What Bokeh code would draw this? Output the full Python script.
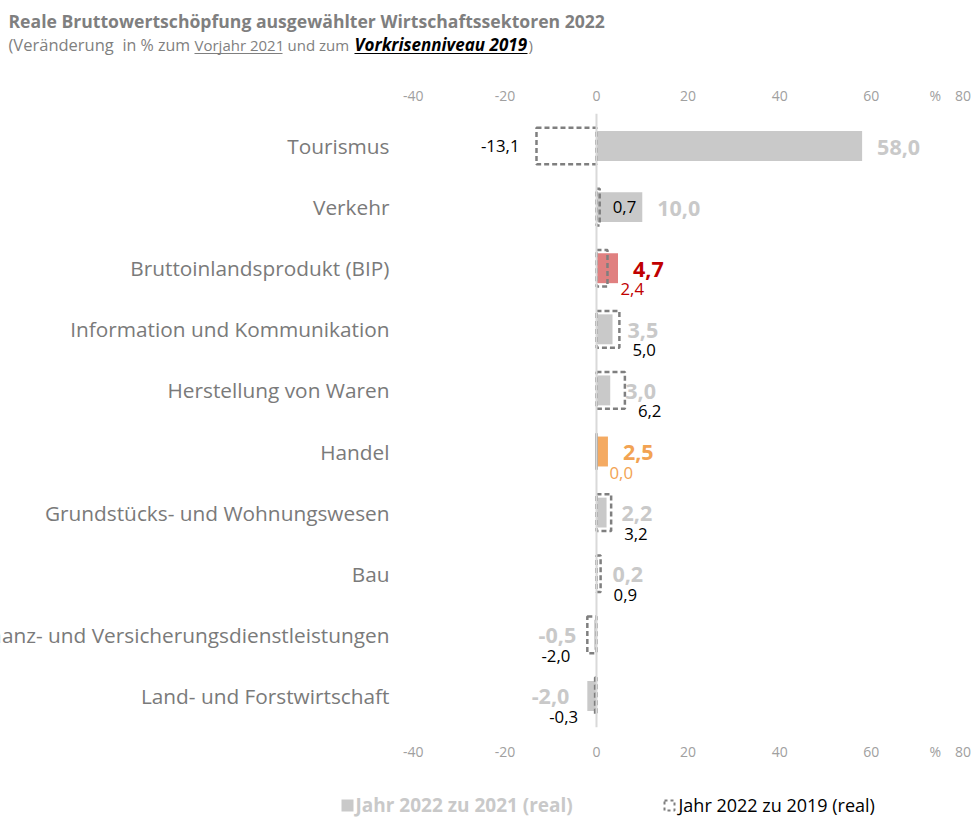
from bokeh.plotting import figure
from bokeh.layouts import column
from bokeh.models import Range1d, LinearAxis, FixedTicker, Span, ColumnDataSource
from bokeh.core.properties import value
from bokeh.embed import file_html
from bokeh.resources import INLINE

# ---------------- data ----------------
categories = ["Tourismus", "Verkehr", "Bruttoinlandsprodukt (BIP)",
              "Information und Kommunikation", "Herstellung von Waren", "Handel",
              "Grundstücks- und Wohnungswesen", "Bau",
              "Finanz- und Versicherungsdienstleistungen", "Land- und Forstwirtschaft"]
vs_2021 = [58.0, 10.0, 4.7, 3.5, 3.0, 2.5, 2.2, 0.2, -0.5, -2.0]
vs_2019 = [-13.1, 0.7, 2.4, 5.0, 6.2, 0.0, 3.2, 0.9, -2.0, -0.3]
tick_values = [-40, -20, 0, 20, 40, 60, 80]
unit_label = "%"

title_text = "Reale Bruttowertschöpfung ausgewählter Wirtschaftssektoren 2022"
legend_2021 = "Jahr 2022 zu 2021 (real)"
legend_2019 = "Jahr 2022 zu 2019 (real)"

# ---------------- style ----------------
FONT = value("Open Sans")
W = 972
GRAY_TXT = "#7a7a7a"
BAR_GRAY = "#c9c9c9"
special_bar = {"Bruttoinlandsprodukt (BIP)": "#e08080", "Handel": "#f4aa62"}
special_lbl = {"Bruttoinlandsprodukt (BIP)": "#c00000", "Handel": "#f2a353"}
special_dash_lbl = {"Bruttoinlandsprodukt (BIP)": "#c00000", "Handel": "#f2a353"}

def fmt(v):
    return f"{v:.1f}".replace(".", ",")

# ---------------- title figure ----------------
TH = 68
tf = figure(width=W, height=TH, x_range=Range1d(0, W), y_range=Range1d(TH, 0),
            output_backend="svg", toolbar_location=None, min_border=0)
tf.axis.visible = False
tf.grid.visible = False
tf.outline_line_color = None
tf.text(x=[8], y=[20], text=[title_text], text_font=FONT, text_font_size="17.6px",
        text_font_style="bold", text_color="#7f7f7f", text_baseline="middle")
parts = [("(Veränderung", 8, "normal", "#7f7f7f", None, "16.5px"),
         ("in % zum", 122, "normal", "#7f7f7f", None, "16px"),
         ("Vorjahr 2021", 194, "normal", "#7f7f7f", 282, "15px"),
         ("und zum", 287, "normal", "#7f7f7f", None, "15px"),
         ("Vorkrisenniveau 2019", 354, "bold italic", "#000000", 527, "17px"),
         (")", 528, "normal", "#7f7f7f", None, "15px")]
for txt, x0, style, col, x1, fs in parts:
    tf.text(x=[x0], y=[44], text=[txt], text_font=FONT, text_font_size=fs,
            text_font_style=style, text_color=col, text_baseline="middle")
    if x1 is not None:
        tf.segment(x0=[x0], y0=[53], x1=[x1], y1=[53], line_color=col, line_width=1.2)

# ---------------- main figure ----------------
x_lo, x_hi = -130.13, 82.10
scale = W / (x_hi - x_lo)
n = len(categories)
ys = list(range(n))

p = figure(width=W, height=707, x_range=Range1d(x_lo, x_hi), y_range=Range1d(9.517, -0.532),
           output_backend="svg", toolbar_location=None,
           x_axis_location=None, y_axis_location=None,
           min_border_left=0, min_border_right=0, min_border_top=45, min_border_bottom=48)
p.grid.visible = False
p.outline_line_color = None

ticks = tick_values + [74]
overrides = {t: str(t) for t in tick_values}
overrides[74] = unit_label
for loc, standoff in (("above", 9), ("below", 14)):
    ax = LinearAxis(ticker=FixedTicker(ticks=ticks), major_label_overrides=overrides)
    ax.axis_line_color = None
    ax.major_tick_line_color = None
    ax.minor_tick_line_color = None
    ax.major_tick_out = 0
    ax.major_tick_in = 0
    ax.major_label_standoff = standoff
    ax.major_label_text_font = "Open Sans"
    ax.major_label_text_font_size = "14px"
    ax.major_label_text_color = "#a0a0a0"
    p.add_layout(ax, loc)

p.add_layout(Span(location=0, dimension="height", line_color="#d9d9d9", line_width=2))

bar_colors = [special_bar.get(c, BAR_GRAY) for c in categories]
lbl_colors = [special_lbl.get(c, BAR_GRAY) for c in categories]
dash_colors = [special_dash_lbl.get(c, "#000000") for c in categories]

p.hbar(y=ys, left=0, right=vs_2021, height=0.49, fill_color=bar_colors, line_color=None)
p.hbar(y=ys, left=0, right=vs_2019, height=0.6, fill_color=None, line_color="#7f7f7f",
       line_width=2.5, line_dash="5 3")

# category labels
p.text(x=[-45.2] * n, y=ys, text=categories, text_font=FONT, text_font_size="20.8px",
       text_color=GRAY_TXT, text_align="right", text_baseline="middle")

# bar value labels
b_off = [15 if v >= 0 else -18 for v in vs_2021]
b_align = ["left" if v >= 0 else "right" for v in vs_2021]
src_b = ColumnDataSource(dict(x=vs_2021, y=ys, t=[fmt(v) for v in vs_2021],
                              xo=b_off, al=b_align, c=lbl_colors))
p.text(x="x", y="y", text="t", x_offset="xo", y_offset=1, text_align="al",
       text_color="c", source=src_b, text_font=FONT, text_font_size="21.5px",
       text_font_style="bold", text_baseline="middle")

# dashed value labels (same line if no collision with the bar label, else below)
d_off, d_align, d_yoff = [], [], []
for b, d in zip(vs_2021, vs_2019):
    xo = 13 if d >= 0 else -17
    d_off.append(xo)
    d_align.append("left" if d >= 0 else "right")
    dpx = d * scale + xo
    bpx = b * scale + (15 if b >= 0 else -18)
    if d >= 0 and b >= 0:
        clash = dpx + 30 > bpx
    elif d < 0 and b < 0:
        clash = True
    else:
        clash = False
    d_yoff.append(21 if clash else 0)
src_d = ColumnDataSource(dict(x=vs_2019, y=ys, t=[fmt(v) for v in vs_2019],
                              xo=d_off, yo=d_yoff, al=d_align, c=dash_colors))
p.text(x="x", y="y", text="t", x_offset="xo", y_offset="yo", text_align="al",
       text_color="c", source=src_d, text_font=FONT, text_font_size="16.8px",
       text_baseline="middle")

# ---------------- legend figure ----------------
LH = 43
lf = figure(width=W, height=LH, x_range=Range1d(0, W), y_range=Range1d(LH, 0),
            output_backend="svg", toolbar_location=None, min_border=0)
lf.axis.visible = False
lf.grid.visible = False
lf.outline_line_color = None
lf.quad(left=[341], right=[353], top=[24], bottom=[36], fill_color=BAR_GRAY, line_color=None)
lf.text(x=[355], y=[29], text=[legend_2021], text_font=FONT, text_font_size="19px",
        text_font_style="bold", text_color=BAR_GRAY, text_baseline="middle")
lf.quad(left=[664], right=[674], top=[25], bottom=[35], fill_color=None, line_color="#7f7f7f",
        line_width=2, line_dash="3 3")
lf.text(x=[678], y=[29], text=[legend_2019], text_font=FONT, text_font_size="18px",
        text_color="#000000", text_baseline="middle")

layout = column(tf, p, lf, spacing=0)
open("out.html", "w").write(file_html(layout, INLINE))
